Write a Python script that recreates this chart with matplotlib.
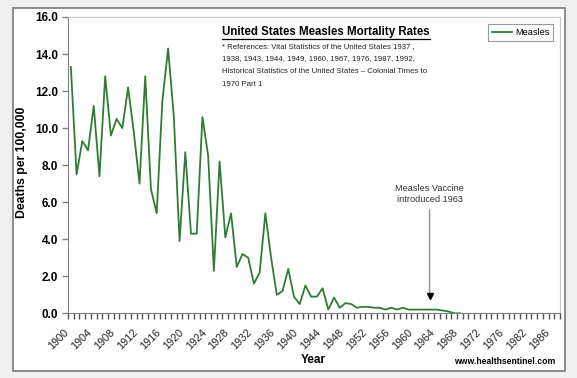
import numpy as np
import matplotlib
matplotlib.use("Agg")
import matplotlib.pyplot as plt
from matplotlib.patches import Rectangle
from matplotlib.transforms import ScaledTranslation

plt.rcParams['font.family'] = ['Liberation Sans', 'DejaVu Sans']

# category axis (Excel style), labels every 4th category
years = list(range(1900, 1977)) + [1977, 1978, 1980, 1982, 1983, 1984, 1985, 1986, 1987]

# deaths per 100,000, 1900-1968
rates = [13.3, 7.5, 9.3, 8.8, 11.2, 7.4, 12.8, 9.6, 10.5, 10.0,
         12.2, 9.8, 7.0, 12.8, 6.7, 5.4, 11.5, 14.3, 10.6, 3.9,
         8.7, 4.3, 4.3, 10.6, 8.5, 2.3, 8.2, 4.1, 5.4, 2.5,
         3.2, 3.0, 1.6, 2.2, 5.4, 3.0, 1.0, 1.2, 2.4, 0.9,
         0.5, 1.5, 0.9, 0.9, 1.35, 0.2, 0.85, 0.3, 0.55, 0.5,
         0.3, 0.35, 0.35, 0.3, 0.3, 0.2, 0.3, 0.2, 0.3, 0.2,
         0.2, 0.2, 0.2, 0.2, 0.2, 0.15, 0.1, 0.0, 0.0]

yticks = [0, 2, 4, 6, 8, 10, 12, 14, 16]

W, H = 577, 378
fig = plt.figure(figsize=(W / 100, H / 100), dpi=100, facecolor='#efefef')
fig.patches.append(Rectangle((13 / W, 1 - 371 / H), (565 - 13) / W, (371 - 8) / H,
                             transform=fig.transFigure, facecolor='white',
                             edgecolor='#7a7a7a', lw=1.2, zorder=-5))

ax = fig.add_axes([68 / W, 1 - 313.3 / H, (560 - 68) / W, (313.3 - 17) / H])
ax.set_zorder(2)
n = len(years)
xpos = np.arange(len(rates)) + 0.5
ax.plot(xpos, rates, color='#2e7d32', lw=1.3, label='Measles', zorder=3)

ax.set_xlim(0, n)
ax.set_ylim(0, 16)
ax.set_yticks(yticks)
ax.set_yticklabels(['%.1f' % v for v in yticks], fontsize=8.5, fontweight='bold')

lab_idx = list(range(0, n, 4))
ax.set_xticks([i + 0.5 for i in lab_idx])
ax.set_xticklabels([str(years[i]) for i in lab_idx], rotation=45, ha='right',
                   rotation_mode='anchor', fontsize=7.8, color='#222222')
ax.set_xticks(np.arange(n + 1), minor=True)
ax.tick_params(axis='x', which='major', length=0, pad=8)
ax.tick_params(axis='x', which='minor', length=4, width=1, color='#555555')
ax.tick_params(axis='y', length=4, width=1, color='#808080', pad=3)
shift = ScaledTranslation(-7 / 100, -3 / 100, fig.dpi_scale_trans)
for lbl in ax.get_xticklabels():
    lbl.set_transform(lbl.get_transform() + shift)

for s in ['left', 'bottom']:
    ax.spines[s].set_color('#808080')
for s in ['top', 'right']:
    ax.spines[s].set_color('#c8c8c8')

fig.text(22 / W, 1 - 162 / H, 'Deaths per 100,000', rotation=90, ha='center',
         va='center', fontsize=8.8, fontweight='bold')
fig.text(313 / W, 1 - 360 / H, 'Year', ha='center', va='center',
         fontsize=8.5, fontweight='bold')
fig.text(555 / W, 1 - 361 / H, 'www.healthsentinel.com', ha='right', va='center',
         fontsize=6.2, fontweight='bold')

fig.text(222 / W, 1 - 32 / H, 'United States Measles Mortality Rates', ha='left',
         va='center', fontsize=8.3, fontweight='bold', zorder=5)
fig.add_artist(plt.Line2D([222 / W, 430 / W], [1 - 38.5 / H, 1 - 38.5 / H], color='black', lw=0.9, zorder=5))
refs = ("* References: Vital Statistics of the United States 1937 ,\n"
        "1938, 1943, 1944, 1949, 1960, 1967, 1976, 1987, 1992,\n"
        "Historical Statistics of the United States \u2013 Colonial Times to\n"
        "1970 Part 1")
fig.text(222 / W, 1 - 43 / H, refs, ha='left', va='top', fontsize=5.6,
         linespacing=2.1, color='#222222', zorder=5)

leg = ax.legend(loc='upper right', bbox_to_anchor=(553 / W, 1 - 24.5 / H),
                bbox_transform=fig.transFigure, fontsize=6.6, frameon=True,
                fancybox=False, handlelength=2.2, handletextpad=0.3,
                borderpad=0.4, borderaxespad=0)
leg.get_frame().set_edgecolor('#808080')
leg.get_frame().set_linewidth(0.8)

vacc_x = years.index(1963) + 0.5
ax.annotate('Measles Vaccine\nintroduced 1963', xy=(vacc_x - 0.3, 1.1), xytext=(vacc_x - 0.3, 5.9),
            ha='center', va='bottom', fontsize=6.6, color='#333333', linespacing=1.25,
            arrowprops=dict(arrowstyle='-', color='#999999', lw=1.1,
                            shrinkA=2, shrinkB=0))
ax.plot([vacc_x - 0.3], [0.95], marker='v', color='black', markersize=5, zorder=4)

fig.savefig('out.png', dpi=100, facecolor=fig.get_facecolor())
